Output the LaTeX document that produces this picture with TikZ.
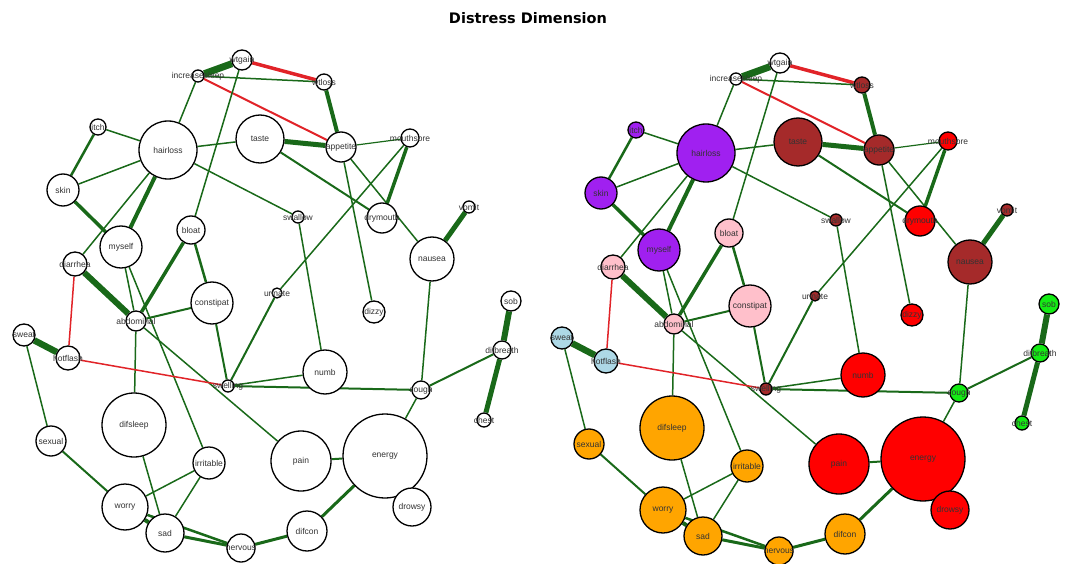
\documentclass[tikz,border=0pt]{standalone}
\usepackage{fontspec}
\setmainfont{Liberation Sans}
\newfontfamily\titlefont{DejaVu Sans}
\usetikzlibrary{backgrounds}
\definecolor{eg}{RGB}{25,105,25}
\definecolor{er}{RGB}{225,35,40}
\definecolor{cbrown}{RGB}{165,42,42}
\definecolor{cred}{RGB}{255,0,0}
\definecolor{cgreen}{RGB}{20,235,20}
\definecolor{cpurple}{RGB}{160,32,240}
\definecolor{cpink}{RGB}{255,192,203}
\definecolor{cblue}{RGB}{173,216,230}
\definecolor{corange}{RGB}{255,165,0}
\tikzset{
  sym/.style={circle, draw=black, line width=1.3pt, inner sep=0pt, minimum size=#1*2pt},
  lab/.style={font=\fontsize{8.5}{9}\selectfont, text=black!80, inner sep=0pt},
  ge/.style={draw=eg, line width=#1},
  re/.style={draw=er, line width=#1},
  plain/.style={gW/.style={fill=white}, gBr/.style={fill=white}, gRd/.style={fill=white},
    gGr/.style={fill=white}, gPu/.style={fill=white}, gPk/.style={fill=white},
    gBl/.style={fill=white}, gOr/.style={fill=white}},
  colored/.style={gW/.style={fill=white}, gBr/.style={fill=cbrown}, gRd/.style={fill=cred},
    gGr/.style={fill=cgreen}, gPu/.style={fill=cpurple}, gPk/.style={fill=cpink},
    gBl/.style={fill=cblue}, gOr/.style={fill=corange}},
}
\newcommand\sn[5]{\node[sym=#4, #5, label={[lab]center:#1}] (#1) at (#2,#3) {};}
\newcommand\ed[3]{\draw[#3] (#1) -- (#2);}
\newcommand\symgraph{%
  \sn{wtgain}{242}{60}{10}{gW}
  \sn{increasesleep}{198}{76}{6}{gW}
  \sn{wtloss}{324}{82}{8}{gBr}
  \sn{itch}{98}{127}{8}{gPu}
  \sn{hairloss}{168}{150}{29}{gPu}
  \sn{taste}{260}{139}{24}{gBr}
  \sn{appetite}{341}{147}{15}{gBr}
  \sn{mouthsore}{410}{138}{9}{gRd}
  \sn{skin}{63}{190}{16}{gPu}
  \sn{swallow}{298}{217}{6}{gBr}
  \sn{drymouth}{382}{218}{15}{gRd}
  \sn{vomit}{469}{207}{6}{gBr}
  \sn{bloat}{191}{230}{14}{gPk}
  \sn{myself}{121}{247}{21}{gPu}
  \sn{nausea}{432}{259}{22}{gBr}
  \sn{diarrhea}{75}{264}{12}{gPk}
  \sn{urinate}{277}{293}{5}{gBr}
  \sn{constipat}{212}{303}{21}{gPk}
  \sn{dizzy}{374}{312}{11}{gRd}
  \sn{abdominal}{136}{321}{10}{gPk}
  \sn{sweat}{24}{335}{11}{gBl}
  \sn{hotflash}{68}{358}{12}{gBl}
  \sn{numb}{325}{372}{22}{gRd}
  \sn{swelling}{228}{386}{6}{gBr}
  \sn{cough}{421}{390}{9}{gGr}
  \sn{sob}{511}{301}{10}{gGr}
  \sn{difbreath}{502}{350}{9}{gGr}
  \sn{chest}{484}{420}{7}{gGr}
  \sn{difsleep}{134}{425}{32}{gOr}
  \sn{sexual}{51}{441}{15}{gOr}
  \sn{irritable}{209}{463}{16}{gOr}
  \sn{pain}{301}{461}{30}{gRd}
  \sn{energy}{385}{456}{42}{gRd}
  \sn{drowsy}{412}{507}{19}{gRd}
  \sn{worry}{125}{507}{23}{gOr}
  \sn{sad}{165}{533}{19}{gOr}
  \sn{nervous}{241}{548}{14}{gOr}
  \sn{difcon}{307}{531}{20}{gOr}
  \begin{pgfonlayer}{background}
  \ed{wtgain}{increasesleep}{ge=7pt}
  \ed{wtgain}{wtloss}{re=3.5pt}
  \ed{increasesleep}{wtloss}{ge=1.5pt}
  \ed{increasesleep}{appetite}{re=2pt}
  \ed{increasesleep}{hairloss}{ge=1.5pt}
  \ed{wtgain}{bloat}{ge=1.5pt}
  \ed{wtloss}{appetite}{ge=4pt}
  \ed{taste}{appetite}{ge=5pt}
  \ed{appetite}{mouthsore}{ge=1.2pt}
  \ed{appetite}{nausea}{ge=1.5pt}
  \ed{appetite}{dizzy}{ge=1.5pt}
  \ed{taste}{drymouth}{ge=2pt}
  \ed{mouthsore}{drymouth}{ge=3.5pt}
  \ed{mouthsore}{urinate}{ge=1.5pt}
  \ed{hairloss}{taste}{ge=1.5pt}
  \ed{hairloss}{swallow}{ge=1.5pt}
  \ed{hairloss}{itch}{ge=1.5pt}
  \ed{hairloss}{skin}{ge=1.5pt}
  \ed{hairloss}{myself}{ge=4pt}
  \ed{hairloss}{diarrhea}{ge=1.5pt}
  \ed{itch}{skin}{ge=2.5pt}
  \ed{skin}{myself}{ge=3.5pt}
  \ed{diarrhea}{abdominal}{ge=6pt}
  \ed{diarrhea}{hotflash}{re=1.5pt}
  \ed{myself}{abdominal}{ge=1.5pt}
  \ed{myself}{irritable}{ge=1.5pt}
  \ed{abdominal}{bloat}{ge=3.5pt}
  \ed{abdominal}{constipat}{ge=2pt}
  \ed{abdominal}{difsleep}{ge=1.5pt}
  \ed{abdominal}{pain}{ge=1.5pt}
  \ed{bloat}{constipat}{ge=2.5pt}
  \ed{constipat}{swelling}{ge=2pt}
  \ed{urinate}{swelling}{ge=2pt}
  \ed{swelling}{numb}{ge=1.5pt}
  \ed{swelling}{cough}{ge=2pt}
  \ed{hotflash}{swelling}{re=1.5pt}
  \ed{swallow}{numb}{ge=1.5pt}
  \ed{sweat}{hotflash}{ge=6.5pt}
  \ed{sweat}{sexual}{ge=1.5pt}
  \ed{sexual}{worry}{ge=2pt}
  \ed{nausea}{vomit}{ge=5pt}
  \ed{nausea}{cough}{ge=1.5pt}
  \ed{cough}{difbreath}{ge=2pt}
  \ed{cough}{energy}{ge=1.5pt}
  \ed{sob}{difbreath}{ge=6pt}
  \ed{difbreath}{chest}{ge=5pt}
  \ed{pain}{energy}{ge=2pt}
  \ed{energy}{difcon}{ge=3pt}
  \ed{difcon}{nervous}{ge=3pt}
  \ed{nervous}{sad}{ge=3pt}
  \ed{nervous}{worry}{ge=2.5pt}
  \ed{worry}{sad}{ge=4pt}
  \ed{worry}{irritable}{ge=1.5pt}
  \ed{sad}{irritable}{ge=1.5pt}
  \ed{sad}{difsleep}{ge=1.5pt}
  \end{pgfonlayer}
}
\begin{document}
\begin{tikzpicture}[x=1pt, y=-1pt]
  \useasboundingbox (0,0) rectangle (1068,564);
  \node[font=\titlefont\bfseries\fontsize{14.5}{16}\selectfont] (title) at (528,18) {Distress Dimension};
  \begin{scope}[plain, name prefix=L-]
    \symgraph
  \end{scope}
  \begin{scope}[colored, shift={(538,3)}, name prefix=R-]
    \symgraph
  \end{scope}
\end{tikzpicture}
\end{document}
